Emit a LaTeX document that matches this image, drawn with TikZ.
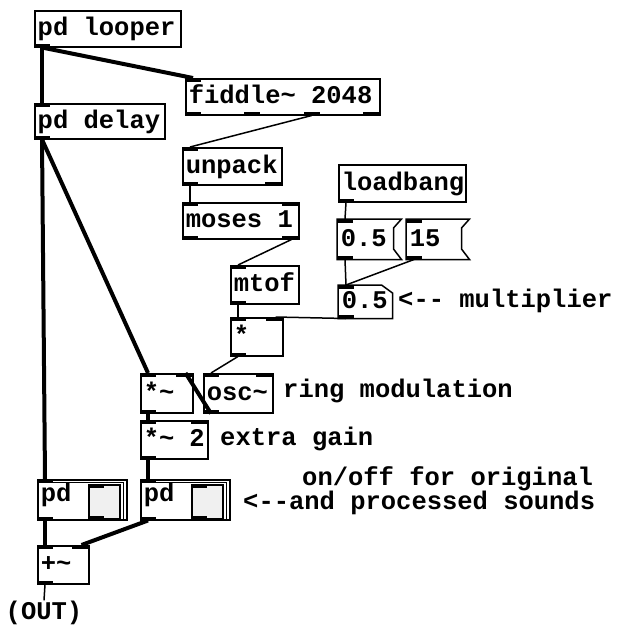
\documentclass[tikz,border=0pt]{standalone}
\usepackage{fontspec}
\newfontfamily\pdmono{Liberation Mono}
\usetikzlibrary{calc}
\newcommand\pdfnt{\pdmono\bfseries\fontsize{25.5pt}{28pt}\selectfont}
\newcommand\hy{-\kern0pt}
\tikzset{
  pdbox/.style={draw, line width=1.5pt, anchor=north west, inner xsep=3pt, inner ysep=0pt,
    text height=18pt, text depth=4pt, align=flush left, font=\pdfnt},
  ctl/.style={line width=1.5pt},
  sig/.style={line width=4pt},
  lbl/.style={anchor=base west, inner sep=0pt, font=\pdfnt},
  tgl/.style={draw, line width=1.5pt, fill=gray!12, anchor=north west, inner sep=0pt},
}
\newcommand\pdobj[7][]{\pgfmathsetmacro\tw{#5-6}%
  \node[pdbox, minimum width=#5pt, minimum height=#6pt, text width=\tw pt, #1] (#2) at (#3,#4) {#7};}
\newcommand\pin[2]{\fill ($(#1.north west)+(#2,0)$) rectangle ++(16,4);}
\newcommand\pout[2]{\fill ($(#1.south west)+(#2,0)$) rectangle ++(16,-4);}
\begin{document}
\begin{tikzpicture}[x=1pt, y=-1pt]
\useasboundingbox (0,0) rectangle (617,630);
% boxes
\pdobj{looper}{34}{10}{146}{36}{pd looper}
\pdobj{fiddle}{185}{78}{194}{36}{fiddle\textasciitilde{} 2048}
\pdobj{delay}{34}{103}{130}{35}{pd delay}
\pdobj{unpack}{182}{147}{99}{37}{unpack}
\pdobj{moses}{182}{202}{116}{36}{moses 1}
\pdobj{loadbang}{338}{164}{127}{37}{loadbang}
\pdobj[draw=none]{msgA}{337}{219}{63}{39}{0.5}
\pdobj[draw=none]{msgB}{406}{219}{62}{39}{15}
\pdobj[draw=none]{num}{338}{285}{53}{32}{0.5}
\pdobj{mtof}{230}{265}{68}{38}{mtof}
\pdobj{mul}{230}{317}{52}{38}{*}
\pdobj{rmul}{140}{373}{52}{39}{*\textasciitilde}
\pdobj{osc}{203}{373}{69}{39}{osc\textasciitilde}
\pdobj{gain}{140}{420}{67}{38}{*\textasciitilde{} 2}
\pdobj[text depth=14pt]{pdL}{37}{479}{89}{40}{pd}
\pdobj[text depth=14pt]{pdR}{140}{479}{89}{40}{pd}
\pdobj{add}{37}{545}{51}{38}{+\textasciitilde}
% message and number box outlines
\foreach \m in {msgA,msgB}{
  \draw[line width=1.5pt, line join=miter] (\m.north west) -- (\m.north east) -- ++(-8,9) -- ++(0,21)
    -- (\m.south east) -- (\m.south west) -- cycle;}
\draw[line width=1.5pt] (num.north west) -- ($(num.north east)+(-11,0)$) -- ($(num.north east)+(0,8)$)
  -- (num.south east) -- (num.south west) -- cycle;
% graph-on-parent frames and toggles
\foreach \p in {pdL,pdR}{
  \draw[line width=1.2pt] ($(\p.north west)+(0,3.5)$) -- ($(\p.north east)+(-4,3.5)$) -- ($(\p.south east)+(-4,0)$);}
\node[tgl, minimum width=31pt, minimum height=34pt] (tgL) at (88,484) {};
\node[tgl, minimum width=31pt, minimum height=34pt] (tgR) at (191,484) {};
% ports
\pout{looper}{0}
\pin{fiddle}{0}
\foreach \d in {0,59.3,118.7,178}{\pout{fiddle}{\d}}
\pin{delay}{0} \pout{delay}{0}
\pin{unpack}{0} \pout{unpack}{0} \pout{unpack}{83}
\pin{moses}{0} \pin{moses}{100} \pout{moses}{0} \pout{moses}{100}
\pout{loadbang}{0}
\pin{msgA}{0} \pout{msgA}{0}
\pin{msgB}{0} \pout{msgB}{0}
\pin{num}{0} \pout{num}{0}
\pin{mtof}{0} \pout{mtof}{0}
\pin{mul}{0} \pin{mul}{36} \pout{mul}{0}
\pin{rmul}{0} \pin{rmul}{36} \pout{rmul}{0}
\pin{osc}{0} \pin{osc}{53} \pout{osc}{0}
\pin{gain}{0} \pin{gain}{51} \pout{gain}{0}
\pin{pdL}{0} \pout{pdL}{0}
\pin{pdR}{0} \pout{pdR}{0}
\pin{tgL}{0} \pout{tgL}{0}
\pin{tgR}{0} \pout{tgR}{0}
\pin{add}{0} \pin{add}{35} \pout{add}{0}
% comments
\node[lbl] (lmult) at (398,307) {<\hy\hy{} multiplier};
\node[lbl] (lring) at (283,397) {ring modulation};
\node[lbl] (lgain) at (220,445) {extra gain};
\node[lbl] (lon) at (302,485) {on/off for original};
\node[lbl] (lproc) at (243,509) {<\hy\hy{}and processed sounds};
\node[lbl, anchor=base] (out) at (44,619) {(OUT)};
% connections
\draw[sig] ($(looper.south west)+(8,0)$) -- ($(delay.north west)+(8,0)$);
\draw[sig] ($(looper.south west)+(8,0)$) -- ($(fiddle.north west)+(8,0)$);
\draw[ctl] ($(fiddle.south west)+(126.7,0)$) -- ($(unpack.north west)+(8,0)$);
\draw[ctl] ($(unpack.south west)+(8,0)$) -- ($(moses.north west)+(8,0)$);
\draw[ctl] ($(moses.south east)+(-8,0)$) -- ($(mtof.north west)+(8,0)$);
\draw[ctl] ($(mtof.south west)+(8,0)$) -- ($(mul.north west)+(8,0)$);
\draw[ctl] ($(num.south west)+(8,0)$) -- ($(mul.north east)+(-8,0)$);
\draw[ctl] ($(loadbang.south west)+(8,0)$) -- ($(msgA.north west)+(8,0)$);
\draw[ctl] ($(msgA.south west)+(8,0)$) -- ($(num.north west)+(8,0)$);
\draw[ctl] ($(msgB.south west)+(8,0)$) -- ($(num.north west)+(8,0)$);
\draw[ctl] ($(mul.south west)+(8,0)$) -- ($(osc.north west)+(8,0)$);
\draw[sig] ($(osc.south west)+(8,0)$) -- ($(rmul.north east)+(-8,0)$);
\draw[sig] ($(delay.south west)+(8,0)$) -- ($(rmul.north west)+(8,0)$);
\draw[sig] ($(delay.south west)+(8,0)$) -- ($(pdL.north west)+(8,0)$);
\draw[sig] ($(rmul.south west)+(8,0)$) -- ($(gain.north west)+(8,0)$);
\draw[sig] ($(gain.south west)+(8,0)$) -- ($(pdR.north west)+(8,0)$);
\draw[sig] ($(pdL.south west)+(8,0)$) -- ($(add.north west)+(8,0)$);
\draw[sig] ($(pdR.south west)+(8,0)$) -- ($(add.north east)+(-8,0)$);
\draw[ctl] ($(add.south west)+(8,0)$) -- (out.north);
\end{tikzpicture}
\end{document}
